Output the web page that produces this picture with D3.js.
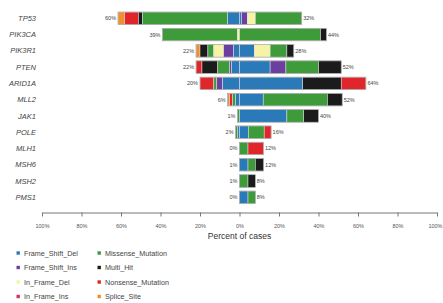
<!DOCTYPE html>
<html>
<head>
<meta charset="utf-8">
<script src="https://d3js.org/d3.v7.min.js"></script>
<style>
  body { margin: 0; background: #fff; }
  text { font-family: "Liberation Sans", Arial, sans-serif; }
</style>
</head>
<body>
<div id="viz"></div>
<script>
// genes top to bottom
var genes = ["TP53", "PIK3CA", "PIK3R1", "PTEN", "ARID1A", "MLL2", "JAK1", "POLE", "MLH1", "MSH6", "MSH2", "PMS1"];

// printed percentages at both ends of each bar
var leftLabels  = [60, 39, 22, 22, 20, 6, 1, 2, 0, 1, 1, 0];
var rightLabels = [32, 44, 28, 52, 64, 52, 40, 16, 12, 12, 8, 8];

// left side parts, from outer end towards the centre
var leftParts = [
  [["Splice_Site", 3.3], ["Nonsense_Mutation", 7], ["Multi_Hit", 2.2], ["Missense_Mutation", 43], ["Frame_Shift_Del", 6]],
  [["Missense_Mutation", 38], ["In_Frame_Del", 1]],
  [["Splice_Site", 2], ["Multi_Hit", 4], ["Missense_Mutation", 3], ["In_Frame_Del", 5], ["Frame_Shift_Ins", 5], ["Frame_Shift_Del", 3]],
  [["Nonsense_Mutation", 3], ["Multi_Hit", 8], ["Missense_Mutation", 6], ["Frame_Shift_Ins", 1], ["Frame_Shift_Del", 4]],
  [["Nonsense_Mutation", 7], ["Missense_Mutation", 1.5], ["Frame_Shift_Ins", 3], ["Frame_Shift_Del", 8.5]],
  [["Splice_Site", 1], ["Nonsense_Mutation", 1.5], ["Missense_Mutation", 1.5], ["Frame_Shift_Del", 2]],
  [["Missense_Mutation", 1]],
  [["Missense_Mutation", 1], ["Frame_Shift_Del", 1]],
  [],
  [],
  [],
  []
];

// right side parts, from the centre outwards
var rightParts = [
  [["Frame_Shift_Del", 1], ["Frame_Shift_Ins", 3], ["In_Frame_Del", 4], ["Missense_Mutation", 23.5]],
  [["Missense_Mutation", 41], ["Multi_Hit", 3]],
  [["Frame_Shift_Del", 7.5], ["In_Frame_Del", 8], ["Missense_Mutation", 8.5], ["Multi_Hit", 3.5]],
  [["Frame_Shift_Del", 15.5], ["Frame_Shift_Ins", 8], ["Missense_Mutation", 16.5], ["Multi_Hit", 11.5]],
  [["Frame_Shift_Del", 32], ["Multi_Hit", 19.5], ["Nonsense_Mutation", 12.5]],
  [["Frame_Shift_Del", 12], ["Missense_Mutation", 32.5], ["Multi_Hit", 7.5]],
  [["Frame_Shift_Del", 24], ["Missense_Mutation", 8.5], ["Multi_Hit", 7.5]],
  [["Frame_Shift_Del", 4.5], ["Missense_Mutation", 8], ["Nonsense_Mutation", 3.5]],
  [["Missense_Mutation", 4.3], ["Nonsense_Mutation", 7.8]],
  [["Frame_Shift_Del", 4.3], ["Missense_Mutation", 3.7], ["Multi_Hit", 4.2]],
  [["Missense_Mutation", 4.3], ["Multi_Hit", 3.7]],
  [["Frame_Shift_Del", 4.3], ["Missense_Mutation", 3.7]]
];

var types = ["Frame_Shift_Del", "Frame_Shift_Ins", "In_Frame_Del", "In_Frame_Ins",
             "Missense_Mutation", "Multi_Hit", "Nonsense_Mutation", "Splice_Site"];
var typeColors = ["#2a7ab9", "#6b3fa0", "#f6f3a6", "#d8335f",
                  "#3d9b3a", "#1b1b1b", "#e0262b", "#f28e2b"];

var ticks = [-100, -80, -60, -40, -20, 0, 20, 40, 60, 80, 100];

var W = 443, H = 303;
var svg = d3.select("#viz").append("svg")
    .attr("width", W)
    .attr("height", H);

var x = d3.scaleLinear().domain([-100, 100]).range([42, 437]);
var y = d3.scaleBand().domain(genes).range([10.17, 205.43])
    .paddingInner(0.23).paddingOuter(0.115);
var color = d3.scaleOrdinal().domain(types).range(typeColors);

// gene names
svg.append("g").selectAll("text")
    .data(genes)
    .enter().append("text")
    .attr("x", 36)
    .attr("y", function(d){ return y(d) + y.bandwidth() / 2; })
    .attr("dy", "0.35em")
    .attr("text-anchor", "end")
    .style("font-size", "7.5px")
    .style("font-style", "italic")
    .style("fill", "#444")
    .text(function(d){ return d; });

// bars
genes.forEach(function(g, i){
    var row = svg.append("g");
    var lsum = d3.sum(leftParts[i], function(p){ return p[1]; });
    var rsum = d3.sum(rightParts[i], function(p){ return p[1]; });

    var segs = [];
    var acc = -lsum;
    leftParts[i].forEach(function(p){
        segs.push({type: p[0], x0: acc, x1: acc + p[1]});
        acc += p[1];
    });
    acc = 0;
    rightParts[i].forEach(function(p){
        segs.push({type: p[0], x0: acc, x1: acc + p[1]});
        acc += p[1];
    });

    row.selectAll("rect.seg")
        .data(segs)
        .enter().append("rect")
        .attr("class", "seg")
        .attr("x", function(d){ return x(d.x0); })
        .attr("y", y(g))
        .attr("width", function(d){ return x(d.x1) - x(d.x0); })
        .attr("height", y.bandwidth())
        .style("fill", function(d){ return color(d.type); })
        .style("stroke", "#e4e4e4")
        .style("stroke-width", 0.5);

    // thin frame round the whole bar
    row.append("rect")
        .attr("x", x(-lsum))
        .attr("y", y(g))
        .attr("width", x(rsum) - x(-lsum))
        .attr("height", y.bandwidth())
        .style("fill", "none")
        .style("stroke", "#9a9a9a")
        .style("stroke-width", 0.6);

    row.append("text")
        .attr("x", x(-lsum) - 2)
        .attr("y", y(g) + y.bandwidth() / 2)
        .attr("dy", "0.35em")
        .attr("text-anchor", "end")
        .style("font-size", "5.5px")
        .style("fill", "#444")
        .text(leftLabels[i] + "%");

    row.append("text")
        .attr("x", x(rsum) + 1.5)
        .attr("y", y(g) + y.bandwidth() / 2)
        .attr("dy", "0.35em")
        .style("font-size", "5.5px")
        .style("fill", "#444")
        .text(rightLabels[i] + "%");
});

// axis
var axis = svg.append("g")
    .attr("transform", "translate(0,212.5)")
    .call(d3.axisBottom(x)
        .tickValues(ticks)
        .tickSize(4)
        .tickSizeOuter(0)
        .tickPadding(8)
        .tickFormat(function(d){ return Math.abs(d) + "%"; }));
axis.select(".domain").style("stroke", "#777");
axis.selectAll(".tick line").style("stroke", "#777");
axis.selectAll(".tick text")
    .style("font-size", "5.5px")
    .style("fill", "#555")
    .style("font-family", "Liberation Sans, Arial, sans-serif");
// keep the last label inside the window
axis.selectAll(".tick text")
    .filter(function(d){ return d === 100; })
    .attr("text-anchor", "end")
    .attr("x", 5);

svg.append("text")
    .attr("x", x(0))
    .attr("y", 238.5)
    .attr("text-anchor", "middle")
    .style("font-size", "8.5px")
    .style("fill", "#333")
    .text("Percent of cases");

// legend, two columns of four
var legend = svg.append("g").selectAll("g")
    .data(types)
    .enter().append("g")
    .attr("transform", function(d, i){
        var col = Math.floor(i / 4), r = i % 4;
        return "translate(" + (16.5 + col * 81) + "," + (253 + r * 14.5) + ")";
    });
legend.append("rect")
    .attr("x", 0).attr("y", -1.7)
    .attr("width", 3.4).attr("height", 3.4)
    .style("fill", function(d){ return color(d); });
legend.append("text")
    .attr("x", 7.5)
    .attr("y", 0)
    .attr("dy", "0.35em")
    .style("font-size", "7.2px")
    .style("fill", "#444")
    .text(function(d){ return d; });
</script>
</body>
</html>
